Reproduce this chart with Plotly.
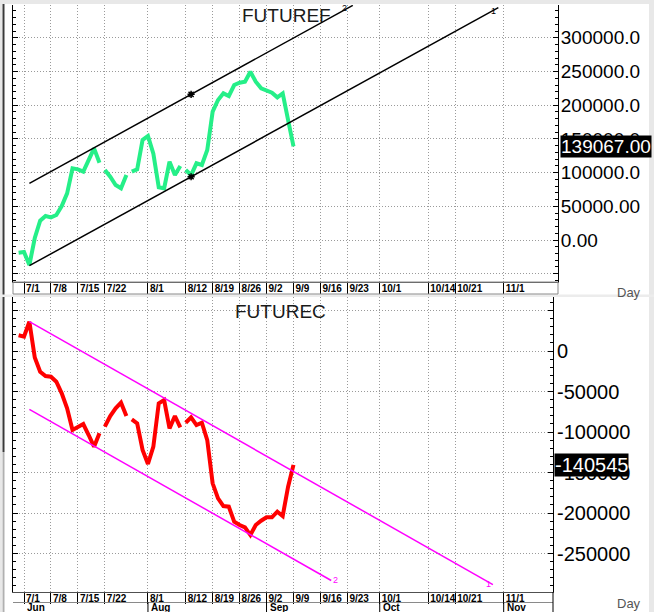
import numpy as np
import pandas as pd
import plotly.graph_objects as go

# ---------------- data ----------------
dates = [d.strftime("%Y-%m-%d") for d in pd.bdate_range("2024-06-28", "2024-09-09")]

futuref = [-18800, -17800, -37100, 3000, 28700, 35600, 33600, 37100, 50400, 69300,
           106300, 104900, 101400, 119700, 136000, 114700, 103900, 94000, 81600, 76700,
           96400, 101400, 104900, 148400, 154300, 128000, 78200, 76700, 116200, 96400,
           109800, 103900, 96400, 113800, 111300, 133500, 190400, 207700, 217600, 213700,
           230000, 233400, 234900, 249700, 234900, 225100, 221500, 218600, 211700, 217600,
           178000, 139067]

futurec = [19400, 17700, 36200, -8000, -25500, -30900, -31700, -37900, -52200, -70700,
           -97500, -94200, -90100, -103700, -118100, -101600, -93400, -80200, -70700, -63800,
           -80200, -84400, -89300, -122200, -139500, -118100, -64600, -60500, -95500, -80200,
           -94200, -88500, -81900, -91400, -88500, -109900, -163300, -181900, -191400, -192200,
           -210700, -214800, -217700, -227200, -214800, -209500, -205300, -205300, -198400, -203700,
           -167500, -140545]

gap_after = ["2024-07-19", "2024-07-26", "2024-08-09"]

# trend channels (start/end dates and values)
f_upper_dates, f_upper_vals = ["2024-07-02", "2024-09-24"], [84100, 348100]
f_lower_dates, f_lower_vals = ["2024-07-02", "2024-10-31"], [-38100, 344700]
f_star_dates, f_star_vals = ["2024-08-13", "2024-08-13"], [216100, 93900]
c_upper_dates, c_upper_vals = ["2024-07-02", "2024-10-30"], [36200, -288300]
c_lower_dates, c_lower_vals = ["2024-07-02", "2024-09-18"], [-72000, -283300]

tick_dates = ["2024-07-01", "2024-07-08", "2024-07-15", "2024-07-22", "2024-08-01", "2024-08-12",
              "2024-08-19", "2024-08-26", "2024-09-02", "2024-09-09", "2024-09-16", "2024-09-23",
              "2024-10-01", "2024-10-14", "2024-10-21", "2024-11-01"]
tick_labels = ["7/1", "7/8", "7/15", "7/22", "8/1", "8/12", "8/19", "8/26", "9/2", "9/9",
               "9/16", "9/23", "10/1", "10/14", "10/21", "11/1"]
month_labels = {"2024-07-01": "Jun", "2024-08-01": "Aug", "2024-09-02": "Sep",
                "2024-10-01": "Oct", "2024-11-01": "Nov"}

f_yticks = [-50000, 0, 50000, 100000, 150000, 200000, 250000, 300000, 350000]
f_ylabels = ["", "0.00", "50000.00", "100000.0", "150000.0", "200000.0", "250000.0", "300000.0", ""]
c_yticks = [50000, 0, -50000, -100000, -150000, -200000, -250000, -300000]
c_ylabels = ["", "0", "-50000", "-100000", "-150000", "-200000", "-250000", ""]

# ---------------- helpers ----------------
ORIGIN = "2024-07-01"


def tidx(d):
    return int(np.busday_count(ORIGIN, d))


def with_gaps(ds, vs):
    xs, ys = [], []
    for d, v in zip(ds, vs):
        xs.append(tidx(d))
        ys.append(v)
        if d in gap_after:
            xs.append(tidx(d) + 0.5)
            ys.append(None)
    return xs, ys


W, H = 654, 612
FONT = "Liberation Sans, Arial, sans-serif"


def px(x):
    return x / W


def py(y):
    return 1 - y / H


fig = go.Figure()

# top panel
gx, gy = with_gaps(dates, futuref)
fig.add_trace(go.Scatter(x=gx, y=gy, mode="lines", line=dict(color="#25ef88", width=4),
                         connectgaps=False, xaxis="x", yaxis="y", hoverinfo="skip"))
for ds, vs in [(f_upper_dates, f_upper_vals), (f_lower_dates, f_lower_vals)]:
    fig.add_trace(go.Scatter(x=[tidx(d) for d in ds], y=vs, mode="lines",
                             line=dict(color="black", width=1.5), xaxis="x", yaxis="y",
                             hoverinfo="skip"))
fig.add_trace(go.Scatter(x=[tidx(d) for d in f_star_dates], y=f_star_vals, mode="markers",
                         marker=dict(symbol="asterisk", size=6, color="black",
                                     line=dict(color="black", width=1.5)),
                         xaxis="x", yaxis="y", hoverinfo="skip"))

# bottom panel
rx, ry = with_gaps(dates, futurec)
fig.add_trace(go.Scatter(x=rx, y=ry, mode="lines", line=dict(color="#ff0000", width=4),
                         connectgaps=False, xaxis="x2", yaxis="y2", hoverinfo="skip"))
for ds, vs in [(c_upper_dates, c_upper_vals), (c_lower_dates, c_lower_vals)]:
    fig.add_trace(go.Scatter(x=[tidx(d) for d in ds], y=vs, mode="lines",
                             line=dict(color="#ff00ff", width=1.5), xaxis="x2", yaxis="y2",
                             hoverinfo="skip"))

tickvals = [tidx(d) for d in tick_dates]

GRID = dict(showgrid=True, gridcolor="#9a9a9a", gridwidth=1, griddash="1px,2px")

xcommon = dict(tickmode="array", tickvals=tickvals, ticktext=tick_labels, ticks="outside",
               ticklen=11, tickcolor="black", tickwidth=1, showline=True, linecolor="#505050",
               zeroline=False, ticklabelposition="outside right", ticklabelstandoff=-3,
               ticklabelshift=1, tickangle=0, automargin=False,
               tickfont=dict(family=FONT, size=10, color="black", weight="bold"), **GRID)


def ycommon(size, standoff):
    return dict(side="right", ticks="inside", ticklen=5, tickcolor="black", showline=True,
                linecolor="black", mirror="ticks", zeroline=False, automargin=False,
                ticklabelstandoff=standoff,
                minor=dict(tickmode="linear", tick0=0, dtick=10000, ticks="inside",
                           ticklen=3, tickcolor="black", showgrid=False),
                tickfont=dict(family=FONT, size=size, color="black"), **GRID)


fig.update_layout(
    width=W, height=H, margin=dict(l=0, r=0, t=0, b=0),
    paper_bgcolor="white", plot_bgcolor="white", showlegend=False,
    xaxis=dict(domain=[px(13), px(558)], range=[-2.04, 99.07], anchor="y", **xcommon),
    yaxis=dict(domain=[py(282), py(5)], range=[-62300, 348700], anchor="x",
               tickmode="array", tickvals=f_yticks, ticktext=f_ylabels, **ycommon(19, -2)),
    xaxis2=dict(domain=[px(13), px(553)], range=[-2.04, 98.15], anchor="y2", **xcommon),
    yaxis2=dict(domain=[py(592), py(297)], range=[-297500, 66700], anchor="x2",
                tickmode="array", tickvals=c_yticks, ticktext=c_ylabels, **ycommon(20, -1)),
)

shapes = []
# window frame pieces
shapes.append(dict(type="rect", xref="paper", yref="paper", x0=0, x1=1, y0=py(4), y1=1,
                   fillcolor="#e8e8e8", line=dict(width=0), layer="above"))
shapes.append(dict(type="rect", xref="paper", yref="paper", x0=px(649), x1=1, y0=0, y1=1,
                   fillcolor="#e8e8e8", line=dict(width=0), layer="above"))
shapes.append(dict(type="rect", xref="paper", yref="paper", x0=0, x1=px(2), y0=0, y1=1,
                   fillcolor="#e8e8e8", line=dict(width=0), layer="above"))
shapes.append(dict(type="line", xref="paper", yref="paper", x0=px(3.5), x1=px(3.5),
                   y0=py(452), y1=py(4), line=dict(color="#3a3a3a", width=2)))
shapes.append(dict(type="line", xref="paper", yref="paper", x0=px(3.5), x1=px(3.5),
                   y0=0, y1=py(452), line=dict(color="#b0b0b0", width=2)))
shapes.append(dict(type="rect", xref="paper", yref="paper", x0=0, x1=1, y0=py(297),
                   y1=py(294.5), fillcolor="#ececec", line=dict(width=0)))
# date strips
shapes.append(dict(type="rect", xref="paper", yref="paper", x0=px(13), x1=px(558),
                   y0=py(294), y1=py(282), line=dict(color="#8a8a8a", width=1)))
shapes.append(dict(type="line", xref="paper", yref="paper", x0=px(13), x1=px(553),
                   y0=py(602.5), y1=py(602.5), line=dict(color="#8a8a8a", width=1)))
shapes.append(dict(type="line", xref="paper", yref="paper", x0=px(553), x1=px(553),
                   y0=0, y1=py(592), line=dict(color="black", width=1)))
# month tick extensions
for d in month_labels:
    if d != "2024-07-01":
        shapes.append(dict(type="line", xref="x2", yref="paper", x0=tidx(d), x1=tidx(d),
                           y0=0, y1=py(602), line=dict(color="black", width=1)))
fig.update_layout(shapes=shapes)

ann = []
ann.append(dict(text="FUTUREF", xref="paper", yref="paper", x=px(286), y=py(15),
                xanchor="center", yanchor="middle",
                showarrow=False, font=dict(family=FONT, size=19, color="#1a1a1a")))
ann.append(dict(text="FUTUREC", xref="paper", yref="paper", x=px(280), y=py(311),
                xanchor="center", yanchor="middle",
                showarrow=False, font=dict(family=FONT, size=19, color="#1a1a1a")))
ann.append(dict(text=f"{futuref[-1]:.2f}", xref="paper", yref="y", x=px(560), y=futuref[-1],
                xanchor="left", yanchor="middle", showarrow=False, bgcolor="black",
                borderpad=0, font=dict(family=FONT, size=19, color="white")))
ann.append(dict(text=f"{futurec[-1]:d}", xref="paper", yref="y2", x=px(554), y=futurec[-1],
                xanchor="left", yanchor="middle", showarrow=False, bgcolor="black",
                borderpad=0, font=dict(family=FONT, size=20, color="white")))
for yy in (292, 603):
    ann.append(dict(text="Day", xref="paper", yref="paper", x=px(629), y=py(yy),
                    xanchor="center", yanchor="middle",
                    showarrow=False, font=dict(family=FONT, size=13, color="#555555")))
# month names under the bottom date strip
for d, m in month_labels.items():
    ann.append(dict(text=m, xref="x2", yref="paper", x=tidx(d), y=py(607.5), xanchor="left",
                    yanchor="middle", xshift=1, showarrow=False,
                    font=dict(family=FONT, size=10, color="black", weight="bold")))
# channel labels
for ds, vs, lab, xr, yr, col, xs, ys in [
    (f_upper_dates, f_upper_vals, "2", "x", "y", "black", -8, -3),
    (f_lower_dates, f_lower_vals, "1", "x", "y", "black", -5, -3),
    (c_lower_dates, c_lower_vals, "2", "x2", "y2", "#ff00ff", 4, 1),
    (c_upper_dates, c_upper_vals, "1", "x2", "y2", "#ff00ff", -4, 1),
]:
    ann.append(dict(text=lab, xref=xr, yref=yr, x=tidx(ds[-1]), y=vs[-1], xshift=xs,
                    yshift=ys, showarrow=False, font=dict(family=FONT, size=9, color=col)))
fig.update_layout(annotations=ann)

fig.write_html("out.html", config={"displayModeBar": False},
               post_script="document.body.style.margin='0';document.body.style.overflow='hidden';")
